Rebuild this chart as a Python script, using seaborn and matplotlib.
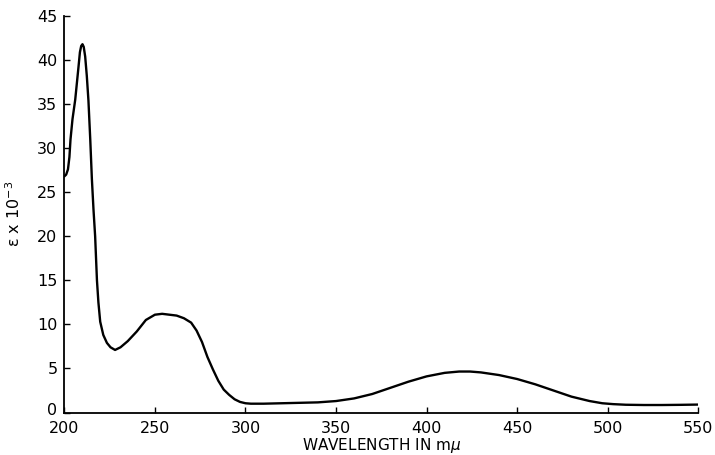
import matplotlib
matplotlib.use("Agg")
import matplotlib.pyplot as plt
import matplotlib.transforms as mtransforms
import pandas as pd
import seaborn as sns

# absorption spectrum
wavelength = [200, 201, 202, 202.8, 203.4, 204.5, 206, 207.8, 208.6, 209.3,
              210.0, 210.7, 211.5, 212.4, 213.3, 214.3, 215.2, 216.1, 217, 218, 218.8,
              219.8, 221.5, 223.5, 225.5, 228, 231, 235, 240, 245, 250,
              254, 258, 262, 266, 270, 273, 276, 279, 282, 285,
              288, 291, 294, 297, 300, 303, 310, 320, 330, 340,
              350, 360, 370, 380, 390, 400, 410, 418, 424, 430,
              440, 450, 460, 470, 480, 490, 497, 503, 510, 520,
              530, 540, 550]
epsilon = [26.8, 27.0, 27.6, 29.0, 31.0, 33.3, 35.5, 39.2, 40.9, 41.6,
           41.8, 41.5, 40.4, 38.2, 35.4, 31.0, 26.5, 23.0, 20.0, 15.0, 12.5,
           10.3, 8.8, 7.9, 7.4, 7.1, 7.4, 8.1, 9.2, 10.5, 11.1,
           11.2, 11.1, 11.0, 10.7, 10.2, 9.3, 8.0, 6.3, 4.9, 3.6,
           2.6, 2.0, 1.5, 1.2, 1.05, 1.0, 1.0, 1.05, 1.1, 1.15,
           1.3, 1.6, 2.1, 2.8, 3.5, 4.1, 4.5, 4.65, 4.65, 4.55,
           4.25, 3.8, 3.2, 2.5, 1.8, 1.3, 1.05, 0.95, 0.88, 0.85,
           0.85, 0.87, 0.9]
x_ticks = [200, 250, 300, 350, 400, 450, 500, 550]
y_ticks = [0, 5, 10, 15, 20, 25, 30, 35, 40, 45]

df = pd.DataFrame({"wavelength": wavelength, "epsilon": epsilon})

sns.set_theme(style="ticks")
plt.rcParams["font.family"] = ["DejaVu Sans"]

fig = plt.figure(figsize=(7.15, 4.55), dpi=100)
ax = fig.add_axes([0.09, 0.0934, 0.8866, 0.8714])
sns.lineplot(data=df, x="wavelength", y="epsilon", color="black", linewidth=1.7, ax=ax)

ax.set_xlim(200, 550)
ax.set_ylim(0, 45)
ax.set_xticks(x_ticks)
ax.set_yticks(y_ticks)
ax.tick_params(direction="in", length=4, width=1, labelsize=11.5, colors="black")
ax.tick_params(axis="x", pad=6)
ax.tick_params(axis="y", pad=5)
sns.despine(ax=ax)
for side in ["left", "bottom"]:
    ax.spines[side].set_linewidth(1.3)
    ax.spines[side].set_color("black")

# lift the "0" label a little so it clears the "200" below it
zero_label = ax.yaxis.get_major_ticks()[0].label1
zero_label.set_transform(zero_label.get_transform()
                         + mtransforms.ScaledTranslation(0, 2.5 / 72, fig.dpi_scale_trans))

ax.set_xlabel("WAVELENGTH IN m$\\mu$", fontsize=11, labelpad=0, color="black")
ax.set_ylabel("ε x 10$^{-3}$", fontsize=11.5, labelpad=10, color="black")

fig.savefig("out.png", dpi=100)
